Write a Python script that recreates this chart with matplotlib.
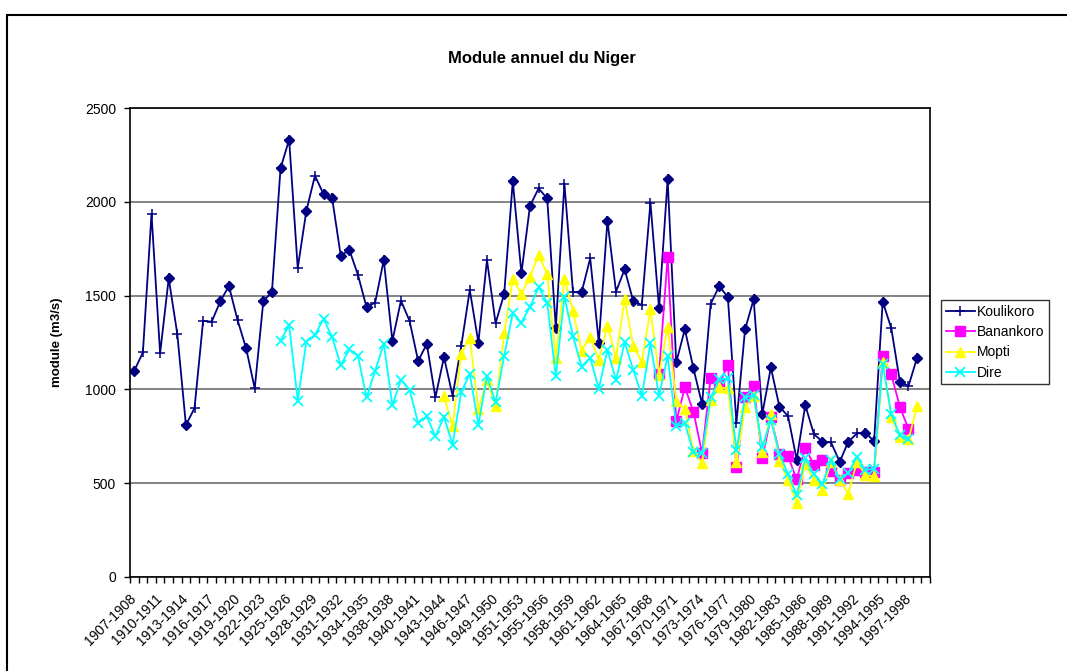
import numpy as np
import matplotlib
matplotlib.use('Agg')
from matplotlib import pyplot as plt
from matplotlib.patches import Rectangle
from matplotlib.transforms import ScaledTranslation

plt.rcParams['font.family'] = ['Liberation Sans', 'DejaVu Sans']

# hydrological years 1907-1908 ... 1999-2000 (two typos kept as in the source sheet)
years = ['%d-%d' % (y, y + 1) for y in range(1907, 2000)]
years[30] = '1938-1938'
years[45] = '1951-1953'

koulikoro = [1100, 1197, 1936, 1192, 1592, 1295, 810, 900, 1365, 1361,
             1470, 1551, 1370, 1219, 1005, 1471, 1519, 2179, 2331, 1646,
             1952, 2139, 2041, 2019, 1712, 1744, 1610, 1438, 1463, 1690,
             1259, 1473, 1365, 1151, 1243, 957, 1172, 966, 1229, 1530,
             1250, 1690, 1353, 1509, 2110, 1619, 1979, 2071, 2018, 1328,
             2097, 1518, 1518, 1699, 1250, 1899, 1521, 1640, 1472, 1450,
             1996, 1433, 2119, 1144, 1321, 1112, 922, 1455, 1551, 1491,
             822, 1320, 1480, 868, 1117, 907, 858, 626, 916, 762,
             721, 717, 614, 721, 765, 769, 724, 1468, 1326, 1041,
             1018, 1169]
koul_start = 0
# points shown with a diamond instead of the plain '+' marker
koul_diamond = [0, 4, 6, 10, 11, 13, 15, 16, 17, 18, 20, 22, 23, 24, 25, 27,
                29, 30, 33, 34, 36, 40, 43, 44, 45, 46, 48, 49, 52, 54, 55,
                57, 58, 61, 62, 63, 64, 65, 66, 68, 69, 71, 72, 73, 74, 75,
                77, 78, 80, 82, 83, 85, 86, 87, 89, 91]

banankoro = [1084, 1707, 829, 1011, 881, 661, 1060, 1028, 1130, 587,
             957, 1018, 632, 854, 658, 644, 520, 690, 596, 623,
             566, 516, 552, 573, 561, 561, 1178, 1080, 907, 788]
banan_start = 61

mopti = [963, 803, 1190, 1273, 897, 1048, 910, 1300, 1589, 1509,
         1601, 1716, 1615, 1167, 1589, 1417, 1207, 1278, 1158, 1340,
         1170, 1480, 1234, 1145, 1427, 1078, 1332, 938, 895, 670,
         608, 943, 1011, 1005, 614, 907, 964, 667, 868, 619,
         516, 395, 605, 516, 463, 614, 516, 445, 614, 543,
         537, 1148, 854, 747, 733, 911]
mopti_start = 36

dire = [1260, 1343, 940, 1254, 1290, 1377, 1278, 1130, 1213, 1178,
        957, 1100, 1244, 916, 1051, 998, 821, 856, 750, 853,
        706, 984, 1083, 812, 1069, 931, 1179, 1406, 1356, 1441,
        1544, 1463, 1069, 1495, 1282, 1122, 1167, 1004, 1211, 1048,
        1252, 1105, 966, 1246, 966, 1176, 803, 820, 664, 660,
        957, 1053, 1059, 676, 957, 970, 694, 836, 655, 548,
        436, 632, 548, 498, 623, 520, 552, 641, 570, 578,
        1135, 868, 756, 733]
dire_start = 17

W, H = 1067, 671
fig = plt.figure(figsize=(W / 100, H / 100), dpi=100)
ax = fig.add_axes([130 / W, 1 - 577 / H, 800 / W, 469 / H])

def xs(start, vals):
    return np.arange(start, start + len(vals))

lw = 1.3
xk = xs(koul_start, koulikoro)
ax.plot(xk, koulikoro, color='#000080', lw=lw, marker='+', ms=7, mew=1.1,
        label='Koulikoro')
kd = np.array(koul_diamond)
ax.plot(kd, np.array(koulikoro)[kd - koul_start], ls='none', marker='D',
        ms=5.5, color='#000080')
ax.plot(xs(banan_start, banankoro), banankoro, color='#FF00FF', lw=lw,
        marker='s', ms=6.5, label='Banankoro')
ax.plot(xs(mopti_start, mopti), mopti, color='#FFFF00', lw=lw,
        marker='^', ms=7, label='Mopti')
ax.plot(xs(dire_start, dire), dire, color='#00FFFF', lw=lw,
        marker='x', ms=6.5, mew=1.3, label='Dire')

ax.set_xlim(-0.5, len(years) - 0.5)
ax.set_ylim(0, 2500)
ax.set_yticks(np.arange(0, 2501, 500))
ax.yaxis.grid(True, color='#6e6e6e', lw=1.2)
ax.set_axisbelow(True)
ax.tick_params(axis='y', labelsize=10, length=4, width=1, pad=6)

ax.set_xticks(np.arange(-0.5, len(years), 1), minor=True)
ax.set_xticks(np.arange(0, len(years), 3))
ax.set_xticklabels(years[::3], rotation=45, ha='right', va='center',
                   rotation_mode='anchor', fontsize=10)
shift = ScaledTranslation(-9 / 100, 0, fig.dpi_scale_trans)
for lab in ax.get_xticklabels():
    lab.set_transform(lab.get_transform() + shift)
ax.tick_params(axis='x', which='major', length=0, pad=14)
ax.tick_params(axis='x', which='minor', length=4, width=1)
for s in ax.spines.values():
    s.set_linewidth(1.2)

fig.text(542 / W, 1 - 58 / H, 'Module annuel du Niger', ha='center',
         va='center', fontsize=12, fontweight='bold')
fig.text(57 / W, 1 - 342 / H, 'module (m3/s)', ha='center', va='center',
         rotation=90, fontsize=9.5, fontweight='bold')

leg = fig.legend(loc='upper left', bbox_to_anchor=(941 / W, 1 - 300 / H),
                 fontsize=10, frameon=True, fancybox=False, borderpad=0.35,
                 labelspacing=0.45, handlelength=2.1, handletextpad=0.15,
                 borderaxespad=0)
leg.get_frame().set_edgecolor('black')
leg.get_frame().set_linewidth(1)

fig.patches.append(Rectangle((7 / W, -0.1), 1.2, 1.1 - 15 / H, fill=False,
                             lw=1.5, ec='black', transform=fig.transFigure))

plt.savefig('out.png', dpi=100)
